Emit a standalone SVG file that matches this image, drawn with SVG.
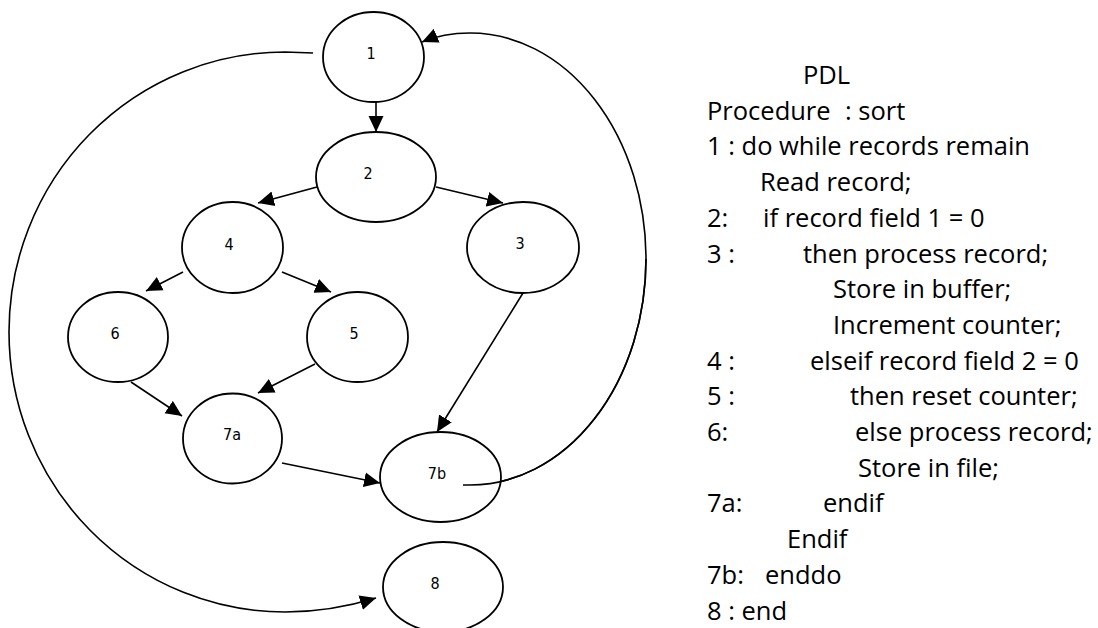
<svg xmlns="http://www.w3.org/2000/svg" width="1098" height="628" viewBox="0 0 1098 628">
  <defs>
    <marker id="arrow" markerWidth="16" markerHeight="16" refX="16" refY="8" orient="auto" markerUnits="userSpaceOnUse">
      <path d="M0,0.5 L16,8 L0,15.5 z" fill="#000"/>
    </marker>
    <style>
      .node ellipse { fill: #fff; stroke: #000; stroke-width: 1.8; }
      .node text { font-family: "Liberation Sans Narrow", "Arial Narrow", "DejaVu Sans Condensed", sans-serif; font-size: 16px; fill: #000; text-anchor: middle; }
      .edge { fill: none; stroke: #000; stroke-width: 1.6; }
      .arrowed { marker-end: url(#arrow); }
      .pdl { font-family: "Open Sans", "Noto Sans", sans-serif; font-size: 25.5px; fill: #000; }
    </style>
  </defs>
  <rect width="1098" height="628" fill="#fff"/>

  <!-- flow-graph connectors -->
  <g id="connectors">
    <path class="edge arrowed" d="M376,102 L376,132"/>
    <path class="edge arrowed" d="M317,187 L258,203"/>
    <path class="edge arrowed" d="M436,187 L503,203"/>
    <path class="edge arrowed" d="M183,272 L146,291"/>
    <path class="edge arrowed" d="M282,272 L331,292"/>
    <path class="edge arrowed" d="M131,382 L182,416"/>
    <path class="edge arrowed" d="M315,364 L258,393"/>
    <path class="edge arrowed" d="M523,293 L437,432"/>
    <path class="edge arrowed" d="M282,463 L380,483"/>
    <!-- loop exit: 1 to 8 around the left side -->
    <path class="edge arrowed" d="M313,53 L285,52 A276 280 0 0 0 285 612 C320,612 350,606 376,598"/>
    <!-- loop back: 7b to 1 around the right side -->
    <path class="edge arrowed" d="M463,485 L470,485 A176 226 0 0 0 470 33 C452,33 436,36 422,42"/>
  </g>

  <g id="node-1" class="node"><ellipse cx="373.5" cy="57" rx="50.5" ry="45"/><text x="371" y="59">1</text></g>
  <g id="node-2" class="node"><ellipse cx="376" cy="177" rx="60" ry="45"/><text x="368" y="179">2</text></g>
  <g id="node-3" class="node"><ellipse cx="523" cy="247.5" rx="56" ry="45.5"/><text x="520" y="249">3</text></g>
  <g id="node-4" class="node"><ellipse cx="232.5" cy="247.5" rx="50.5" ry="45.5"/><text x="229" y="250">4</text></g>
  <g id="node-5" class="node"><ellipse cx="357.5" cy="337" rx="50.5" ry="45"/><text x="354" y="339">5</text></g>
  <g id="node-6" class="node"><ellipse cx="118" cy="337" rx="50" ry="45"/><text x="115" y="339">6</text></g>
  <g id="node-7a" class="node"><ellipse cx="232.5" cy="438.5" rx="49.5" ry="45"/><text x="232" y="440">7a</text></g>
  <g id="node-7b" class="node"><ellipse cx="440.5" cy="477" rx="60.5" ry="45"/><text x="437" y="479">7b</text></g>
  <g id="node-8" class="node"><ellipse cx="443" cy="587" rx="60" ry="45"/><text x="435" y="589">8</text></g>

  <!-- the loop-back curve starts inside 7b, so redraw that part above the node fill -->
  <path class="edge" d="M463,485 L470,485 A176 226 0 0 0 646 259"/>

  <!-- program design language listing -->
  <g id="pdl-listing" class="pdl">
    <text x="803" y="84">PDL</text>
    <text y="119.7"><tspan x="707">Procedure</tspan><tspan x="845">: sort</tspan></text>
    <text x="707" y="155.4">1 : do while records remain</text>
    <text x="760" y="191.1">Read record;</text>
    <text y="226.8"><tspan x="707">2:</tspan><tspan x="763">if record field 1 = 0</tspan></text>
    <text y="262.5"><tspan x="707">3 :</tspan><tspan x="803">then process record;</tspan></text>
    <text x="833" y="298.2">Store in buffer;</text>
    <text x="833" y="333.9">Increment counter;</text>
    <text y="369.6"><tspan x="707">4 :</tspan><tspan x="810">elseif record field 2 = 0</tspan></text>
    <text y="405.3"><tspan x="707">5 :</tspan><tspan x="850">then reset counter;</tspan></text>
    <text y="441"><tspan x="707">6:</tspan><tspan x="855">else process record;</tspan></text>
    <text x="858" y="476.7">Store in file;</text>
    <text y="512.4"><tspan x="707">7a:</tspan><tspan x="823">endif</tspan></text>
    <text x="787" y="548.1">Endif</text>
    <text y="583.8"><tspan x="707">7b:</tspan><tspan x="765">enddo</tspan></text>
    <text x="707" y="619.5">8 : end</text>
  </g>
</svg>
